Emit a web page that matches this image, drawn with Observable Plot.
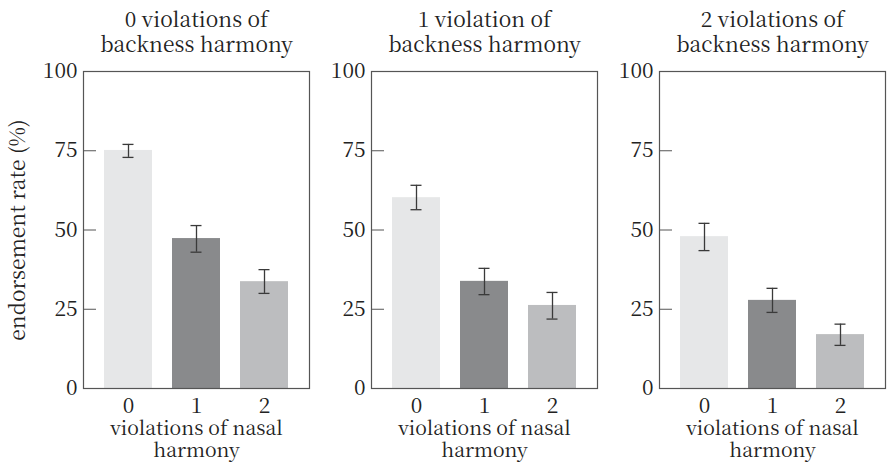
<!DOCTYPE html>
<html><head><meta charset="utf-8">
<script src="https://cdn.jsdelivr.net/npm/d3@7"></script>
<script src="https://cdn.jsdelivr.net/npm/@observablehq/plot@0.6"></script>
<style>
body{margin:0;background:#fff}
#chart svg text, #chart svg tspan{font-family:"Noto Serif CJK SC", "Liberation Serif", serif !important}
</style>
</head><body><div id="chart"></div>
<script>
const backness = ["0","1","2"];
const facetTitles = ["0 violations of\nbackness harmony","1 violation of\nbackness harmony","2 violations of\nbackness harmony"];
const nasal = ["0","1","2"];
const rate  = [[75.1,47.3,33.7],[60.2,33.8,26.2],[47.9,27.8,17.0]];
const lower = [[72.9,43.0,30.0],[56.4,29.6,21.9],[43.5,24.0,13.6]];
const upper = [[77.0,51.4,37.5],[64.1,37.9,30.3],[52.1,31.6,20.3]];
const yTicks = [0,25,50,75,100];
const barColors = ["#e6e7e8","#898a8c","#bcbdbf"];
const yLabel = "endorsement rate (%)";
const xLabel = "violations of nasal\nharmony";

const rows = [];
backness.forEach((b,i)=>nasal.forEach((n,j)=>rows.push({b,n,rate:rate[i][j],lo:lower[i][j],hi:upper[i][j]})));

const FONT = "Noto Serif CJK SC, Liberation Serif, serif";
const err = {fx:"b", x:"n", stroke:"#3a3a3a", strokeWidth:1.3};
const chart = Plot.plot({
  width: 887, height: 462,
  marginTop: 71, marginBottom: 74, marginLeft: 82, marginRight: 0,
  style: {fontFamily: FONT, fontSize: "20px", color: "#222", background: "#fff"},
  fx: {domain: backness, paddingInner: 0.2145, paddingOuter: 0, axis: null, label: null},
  x: {domain: nasal, padding: 0.3, label: null},
  y: {domain: [0,100], label: null},
  color: {domain: nasal, range: barColors},
  marks: [
    Plot.barY(rows, {fx:"b", x:"n", y:"rate", fill:"n"}),
    Plot.ruleX(rows, {...err, y1:"lo", y2:"hi"}),
    Plot.tickY(rows, {...err, y:"lo", insetLeft:18.5, insetRight:18.5}),
    Plot.tickY(rows, {...err, y:"hi", insetLeft:18.5, insetRight:18.5}),
    Plot.frame({stroke:"#555", strokeWidth:1.2}),
    Plot.axisY(yTicks, {facetAnchor: null, tickSize: -13, tickPadding: 19, stroke:"#555", fill:"#222", fontFamily: FONT, fontSize: 21, label: null}),
    Plot.axisX({tickSize: 0, tickPadding: 10, fill:"#222", fontFamily: FONT, fontSize: 21, label: null}),
    Plot.text(backness, {fx: d => d, text: (d,i) => facetTitles[i], frameAnchor:"top", lineAnchor:"bottom", dy:-20, fontSize:21, lineHeight:1.15, fill:"#222", fontFamily: FONT}),
    Plot.text([xLabel], {text: d => d, frameAnchor:"bottom", lineAnchor:"top", dy:31.5, lineHeight:1.1, fontSize:19.5, fill:"#222", fontFamily: FONT}),
    Plot.text([yLabel], {fx: () => backness[0], text: d => d, frameAnchor:"left", textAnchor:"middle", rotate:-90, dx:-65, fontSize:21, fill:"#222", fontFamily: FONT})
  ]
});
document.getElementById("chart").append(chart);
</script>
</body></html>
